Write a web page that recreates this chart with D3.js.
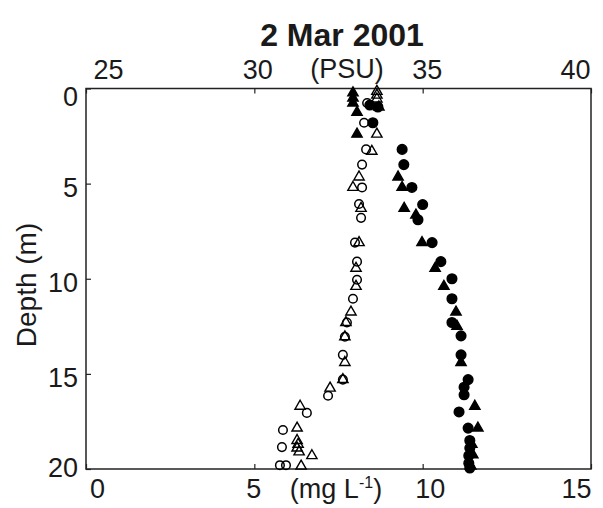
<!DOCTYPE html>
<html>
<head>
<meta charset="utf-8">
<script src="https://cdn.jsdelivr.net/npm/d3@7"></script>
<style>
  body { margin: 0; background: #fff; }
  text { font-family: "Liberation Sans", Arial, sans-serif; fill: #1a1a1a; }
</style>
</head>
<body>
<svg id="chart" width="603" height="508"></svg>
<script>
// salinity, station A (filled circles, top axis, PSU)
var salADepth = [0.87, 0.97, 1.8, 3.2, 4.0, 5.2, 6.1, 6.9, 8.1, 9.1, 10.0, 11.05, 12.3, 13.0, 14.0, 15.3, 15.7, 16.1, 17.0, 17.85, 18.5, 18.9, 19.3, 19.7, 19.95];
var salAVal   = [33.43, 33.67, 33.52, 34.39, 34.44, 34.68, 35.0, 34.86, 35.28, 35.54, 35.87, 35.87, 35.87, 36.14, 36.14, 36.35, 36.23, 36.23, 36.08, 36.35, 36.4, 36.4, 36.37, 36.37, 36.4];
// salinity, station B (filled triangles, top axis, PSU)
var salBDepth = [0.23, 0.5, 0.76, 1.25, 2.4, 4.65, 5.2, 6.3, 6.65, 8.1, 9.45, 10.4, 11.75, 12.5, 14.4, 16.7, 17.85, 18.7, 19.25, 19.85];
var salBVal   = [32.93, 32.93, 32.93, 33.05, 33.05, 34.27, 34.39, 34.45, 34.8, 34.98, 35.37, 35.63, 35.99, 36.02, 36.14, 36.55, 36.64, 36.46, 36.49, 36.43];
// oxygen, station A (open circles, bottom axis, mg/L)
var doADepth = [0.76, 1.8, 3.2, 4.0, 5.2, 6.07, 6.8, 8.1, 9.1, 10.05, 11.05, 12.3, 13.05, 14.0, 15.3, 16.15, 17.05, 17.95, 18.85, 19.8, 19.8];
var doAVal   = [8.35, 8.26, 8.32, 8.2, 8.2, 8.11, 8.17, 7.99, 8.05, 8.05, 7.93, 7.75, 7.69, 7.63, 7.63, 7.19, 6.56, 5.85, 5.82, 5.76, 5.94];
// oxygen, station B (open triangles, bottom axis, mg/L)
var doBDepth = [0.15, 0.35, 0.55, 0.97, 2.4, 3.3, 4.65, 5.2, 6.3, 8.1, 9.45, 10.4, 11.75, 12.3, 13.05, 14.4, 15.3, 15.75, 16.7, 17.85, 18.5, 18.7, 18.9, 19.1, 19.3, 19.85];
var doBVal   = [8.64, 8.64, 8.64, 8.7, 8.64, 8.49, 8.11, 7.93, 8.17, 8.11, 8.02, 8.02, 7.87, 7.72, 7.69, 7.69, 7.63, 7.25, 6.36, 6.27, 6.27, 6.3, 6.27, 6.33, 6.71, 6.39];

var depthTicks = [0, 5, 10, 15, 20];
var psuTicks = [25, 30, 35, 40];
var mgTicks = [0, 5, 10, 15];

var svg = d3.select("#chart");
var margin = { top: 88.5, right: 12, bottom: 39, left: 86 };
var width = +svg.attr("width"), height = +svg.attr("height");
var innerWidth = width - margin.left - margin.right;
var innerHeight = height - margin.top - margin.bottom;

var g = svg.append("g").attr("transform", "translate(" + margin.left + "," + margin.top + ")");

var yScale = d3.scaleLinear().domain([0, 20]).range([0, innerHeight]);
var psuScale = d3.scaleLinear().domain([25, 40]).range([0, innerWidth]);
var mgScale = d3.scaleLinear().domain([0, 15]).range([0, innerWidth]);

// end labels sit a little inside the frame, like in the original figure
function styleAxis(sel, dxs, dys) {
  sel.select(".domain").remove();
  sel.selectAll(".tick line").attr("stroke", "#222").attr("stroke-width", 1.2);
  var t = sel.selectAll(".tick text")
    .attr("font-size", "27px")
    .attr("fill", "#1a1a1a")
    .attr("dx", function (d) { return (dxs[d] || 0) + "px"; });
  if (dys) t.attr("dy", function (d) { return dys[d]; });
}

var topAxis = g.append("g")
  .call(d3.axisTop(psuScale).tickValues(psuTicks).tickSizeInner(-5).tickSizeOuter(0).tickPadding(10));
styleAxis(topAxis, { 25: 22, 30: 3, 35: 4, 40: -16 });

var bottomAxis = g.append("g")
  .attr("transform", "translate(0," + innerHeight + ")")
  .call(d3.axisBottom(mgScale).tickValues(mgTicks).tickSizeInner(-5).tickSizeOuter(0).tickPadding(10));
styleAxis(bottomAxis, { 0: 11, 5: -1, 10: 7, 15: -15 });

var leftAxis = g.append("g")
  .call(d3.axisLeft(yScale).tickValues(depthTicks).tickSizeInner(-5).tickSizeOuter(0).tickPadding(8));
styleAxis(leftAxis, {}, { 0: "0.62em", 5: "0.46em", 10: "0.46em", 15: "0.46em", 20: "0.26em" });

// frame
g.append("rect")
  .attr("width", innerWidth).attr("height", innerHeight)
  .attr("fill", "none").attr("stroke", "#222").attr("stroke-width", 1.5);

// markers
var tri = d3.symbol().type(d3.symbolTriangle).size(46);

function plotSeries(depths, vals, xs, shape, filled) {
  var data = depths.map(function (d, i) { return { depth: d, val: vals[i] }; });
  var sel = g.append("g").selectAll("path").data(data).enter();
  if (shape === "circle") {
    sel.append("circle")
      .attr("cx", function (d) { return xs(d.val); })
      .attr("cy", function (d) { return yScale(d.depth); })
      .attr("r", filled ? 4.8 : 4.3)
      .attr("fill", filled ? "#000" : "none")
      .attr("stroke", "#000").attr("stroke-width", 1.5);
  } else {
    sel.append("path")
      .attr("d", tri)
      .attr("transform", function (d) { return "translate(" + xs(d.val) + "," + yScale(d.depth) + ")"; })
      .attr("fill", filled ? "#000" : "none")
      .attr("stroke", "#000").attr("stroke-width", 1.4);
  }
}

plotSeries(doADepth, doAVal, mgScale, "circle", false);
plotSeries(doBDepth, doBVal, mgScale, "triangle", false);
plotSeries(salADepth, salAVal, psuScale, "circle", true);
plotSeries(salBDepth, salBVal, psuScale, "triangle", true);

// titles and unit labels
svg.append("text")
  .attr("x", 342).attr("y", 46)
  .attr("text-anchor", "middle")
  .attr("font-size", "32px").attr("font-weight", "bold")
  .text("2 Mar 2001");

svg.append("text")
  .attr("x", 347).attr("y", 78)
  .attr("text-anchor", "middle")
  .attr("font-size", "27px")
  .text("(PSU)");

var mgLabel = svg.append("text")
  .attr("x", 336).attr("y", 498)
  .attr("text-anchor", "middle")
  .attr("font-size", "27px");
mgLabel.append("tspan").text("(mg L");
mgLabel.append("tspan").attr("font-size", "16px").attr("dy", -10).text("-1");
mgLabel.append("tspan").attr("dy", 10).text(")");

svg.append("text")
  .attr("transform", "translate(36,285) rotate(-90)")
  .attr("text-anchor", "middle")
  .attr("font-size", "28px")
  .text("Depth (m)");
</script>
</body>
</html>
